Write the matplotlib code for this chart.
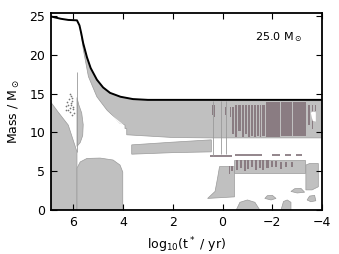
import numpy as np
import matplotlib
matplotlib.use("Agg")
import matplotlib.pyplot as plt

GREY = "#c0c0c0"
EDGE = "#9a9a9a"
MAUVE = "#8a7c82"

# total mass
mass_x = [6.9, 6.5, 6.2, 5.85, 5.75, 5.68, 5.6, 5.45, 5.3, 5.05, 4.8, 4.52, 4.1, 3.6, 3.0, -4.0]
mass_y = [24.95, 24.65, 24.5, 24.45, 23.8, 22.8, 21.5, 19.7, 18.3, 16.8, 15.8, 15.1, 14.6, 14.3, 14.2, 14.2]

# lower edge of the convective envelope (from right to left)
env_lo_x = [-4.0, -3.0, -1.0, 0.5, 2.0, 3.85, 3.85, 3.92, 3.92, 4.12, 4.65, 5.05, 5.39, 5.59, 5.72]
env_lo_y = [9.3, 9.3, 9.3, 9.3, 9.35, 9.7, 10.5, 10.5, 10.95, 11.2, 12.9, 14.6, 17.2, 20.6, 23.3]

# convective core on the main sequence
core_x = [6.9, 6.9, 6.6, 6.2, 5.88, 5.85, 5.85]
core_y = [0, 13.9, 12.6, 10.95, 7.8, 7.5, 0]

# helium core burning dome
dome_x = [5.85, 5.85, 5.72, 5.45, 4.92, 4.4, 4.12, 4.01, 4.01]
dome_y = [0, 5.4, 6.2, 6.65, 6.7, 6.45, 5.8, 4.9, 0]

# thin intermediate zone
lens_x = [5.85, 5.78, 5.66, 5.6, 5.62, 5.72, 5.85]
lens_y = [14.5, 13.6, 12.5, 11.0, 9.6, 8.7, 8.2]

# shell zone below envelope
wedge_x = [3.65, 2.0, 0.45, 0.45, 2.0, 3.65]
wedge_y = [8.4, 8.75, 9.05, 7.5, 7.4, 7.2]

# carbon burning pocket
bucket_x = [0.6, 0.3, 0.2, 0.12, -0.48, -0.48]
bucket_y = [1.5, 2.4, 4.1, 5.6, 5.6, 1.7]

# later shell zone and outer blob
band_x = [-0.48, -0.48, -3.3, -3.3]
band_y = [4.8, 6.5, 6.5, 4.8]
blob_x = [-3.35, -3.35, -3.5, -3.85, -3.85, -3.6]
blob_y = [2.6, 5.8, 6.0, 6.0, 3.0, 2.6]

# small late pockets
pockets = [
    ([-0.55, -0.7, -1.0, -1.3, -1.5], [0, 1.0, 1.3, 1.0, 0]),
    ([-1.7, -1.8, -2.0, -2.15, -1.95], [1.5, 1.85, 1.9, 1.5, 1.3]),
    ([-2.35, -2.45, -2.6, -2.75, -2.75], [0, 1.1, 1.3, 1.0, 0]),
    ([-2.75, -2.9, -3.15, -3.3, -3.0], [2.4, 2.75, 2.8, 2.3, 2.2]),
    ([-3.4, -3.5, -3.7, -3.75, -3.55], [1.3, 1.8, 1.9, 1.2, 1.07]),
]

# dark (burning) stripes inside the envelope
stripe_x0 = [0.42, 0.33, -0.1, -0.3, -0.4, -0.52, -0.64, -0.78, -0.9, -1.02, -1.14, -1.26, -1.38, -1.5, -1.6,
             -1.75, -2.35, -2.85, -3.45, -3.6, -3.72]
stripe_x1 = [0.39, 0.3, -0.13, -0.34, -0.48, -0.6, -0.74, -0.86, -0.98, -1.1, -1.22, -1.34, -1.46, -1.56, -1.7,
             -2.3, -2.8, -3.35, -3.5, -3.65, -3.76]
stripe_lo = [12.2, 12.0, 12.3, 12.0, 9.8, 9.4, 10.2, 9.4, 9.8, 9.4, 9.6, 9.4, 9.6, 9.4, 9.5,
             9.45, 9.5, 9.6, 11.0, 10.5, 12.8]
stripe_hi = [13.5, 13.5, 13.3, 13.3, 13.3, 13.6, 13.6, 13.6, 13.6, 13.6, 13.6, 13.6, 13.6, 13.6, 13.6,
             13.9, 13.9, 13.9, 13.6, 13.6, 13.6]

# dark stripes in the lower band
lstripe_x0 = [-0.25, -0.35, -0.55, -0.7, -0.85, -1.0, -1.15, -1.3, -1.45, -1.6, -1.75, -1.95, -2.1, -2.3, -2.5, -2.75]
lstripe_x1 = [-0.3, -0.42, -0.64, -0.78, -0.93, -1.08, -1.23, -1.38, -1.53, -1.68, -1.85, -2.02, -2.2, -2.38, -2.6, -2.82]
lstripe_lo = [4.7, 5.0, 5.2, 5.4, 5.0, 5.3, 5.5, 5.2, 5.4, 5.1, 5.4, 5.6, 5.6, 5.3, 5.5, 5.6]
lstripe_hi = [5.7, 5.7, 6.5, 6.5, 6.5, 6.5, 6.5, 6.5, 6.5, 6.5, 6.5, 6.3, 6.3, 6.2, 6.2, 6.2]

# dashed shell traces
dash_x0 = [0.5, -0.5, -2.0, -2.5, -2.95]
dash_x1 = [-0.4, -1.6, -2.3, -2.75, -3.2]
dash_m = [7.0, 7.05, 7.05, 7.05, 7.05]

# thin vertical traces
vline_x = [5.85, 0.38, 0.05, -0.12]
vline_lo = [7.5, 7.0, 7.2, 7.2]
vline_hi = [17.8, 14.0, 14.0, 14.0]

# speckles
speck_x = [6.3, 6.25, 6.22, 6.18, 6.15, 6.12, 6.1, 6.08, 6.05, 6.03, 6.0, 5.98, 6.2, 6.14, 6.06, 6.28, 6.1, 6.02]
speck_y = [13.4, 13.9, 12.9, 14.3, 13.2, 12.6, 14.7, 13.6, 12.3, 14.1, 13.0, 12.5, 13.6, 15.0, 14.5, 12.9, 13.8, 13.3]

# white gaps
gap_x = [-3.55, -3.6, -3.75, -3.75, -3.62]
gap_y = [12.5, 12.7, 12.6, 11.4, 11.5]
crack_x = [4.6, 4.0]
crack_y = [12.5, 10.95]

plt.rcParams["font.family"] = "DejaVu Sans"
fig = plt.figure(figsize=(3.39, 2.54), dpi=100)
ax = fig.add_axes([0.150, 0.173, 0.800, 0.776])

env_x = [x for x in mass_x if x <= 5.72] + env_lo_x
env_y = [y for x, y in zip(mass_x, mass_y) if x <= 5.72] + env_lo_y
ax.fill(env_x, env_y, color=GREY, ec=EDGE, lw=0.5)
for px, py in [(core_x, core_y), (dome_x, dome_y), (lens_x, lens_y),
               (wedge_x, wedge_y), (bucket_x, bucket_y), (band_x, band_y),
               (blob_x, blob_y)] + pockets:
    ax.fill(px, py, color=GREY, ec=EDGE, lw=0.5)

ax.bar(stripe_x0, np.subtract(stripe_hi, stripe_lo), width=np.subtract(stripe_x1, stripe_x0),
       bottom=stripe_lo, align="edge", color=MAUVE, lw=0)
ax.bar(lstripe_x0, np.subtract(lstripe_hi, lstripe_lo), width=np.subtract(lstripe_x1, lstripe_x0),
       bottom=lstripe_lo, align="edge", color=MAUVE, lw=0)
ax.hlines(dash_m, dash_x0, dash_x1, color=MAUVE, lw=1.3)
ax.vlines(vline_x, vline_lo, vline_hi, color=EDGE, lw=0.6)
ax.scatter(speck_x, speck_y, s=1.5, color="#777777", lw=0)
ax.fill(gap_x, gap_y, color="white", lw=0)
ax.plot(crack_x, crack_y, color="white", lw=0.8)

ax.plot(mass_x, mass_y, color="black", lw=1.4)

ax.text(0.84, 0.875, r"25.0 M$_\odot$", transform=ax.transAxes, ha="center", va="center", fontsize=8)

ax.set_xlim(6.9, -4)
ax.set_ylim(0, 25.4)
ax.set_xticks([6, 4, 2, 0, -2, -4])
ax.set_yticks([0, 5, 10, 15, 20, 25])
ax.tick_params(direction="in", top=True, right=True, labelsize=9, length=4, width=0.8, pad=4)
for s in ax.spines.values():
    s.set_linewidth(1.3)
ax.set_xlabel(r"log$_{10}$(t$^*$ / yr)", fontsize=9, labelpad=5)
ax.set_ylabel(r"Mass / M$_\odot$", fontsize=9, labelpad=5)

fig.savefig("out.png", dpi=100)
